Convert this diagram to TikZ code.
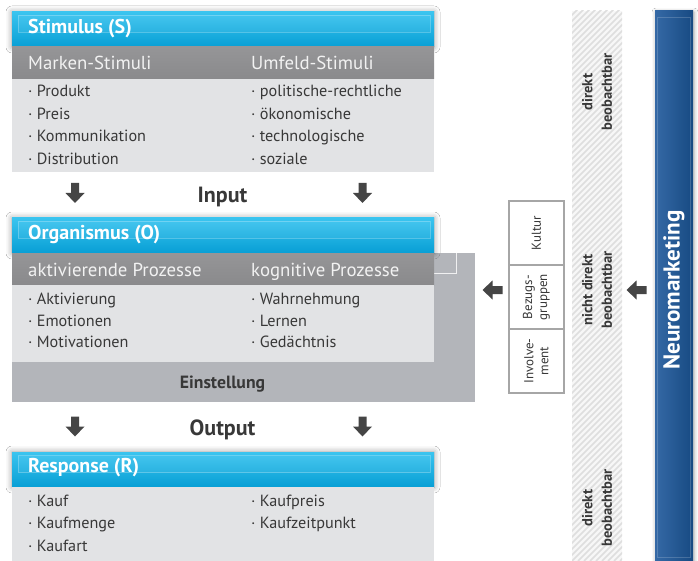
\documentclass[tikz,border=0pt]{standalone}
\usepackage{fontspec}
\setmainfont{PT Sans}
\usetikzlibrary{shadows.blur}
\definecolor{hdrtop}{HTML}{3AC4EF}
\definecolor{hdrbot}{HTML}{089FD5}
\definecolor{subgray}{HTML}{8A8A8C}
\definecolor{subgraytop}{HTML}{959597}
\definecolor{bodygray}{HTML}{E2E3E5}
\definecolor{einstgray}{HTML}{B3B5BA}
\definecolor{txtdark}{HTML}{383838}
\definecolor{arrgray}{HTML}{454545}
\definecolor{stripbg}{HTML}{F7F7F7}
\definecolor{stripln}{HTML}{DEDEDE}
\definecolor{nmleft}{HTML}{3569A6}
\definecolor{nmright}{HTML}{174A82}
\definecolor{cellline}{HTML}{A6A6A6}
\tikzset{
  panel/.style={anchor=north west, inner sep=0pt, outer sep=0pt, minimum width=422pt, draw=none},
  hdr/.style={panel, top color=hdrtop, bottom color=hdrbot,
    blur shadow={shadow blur radius=6pt, shadow xshift=0pt, shadow yshift=0pt, shadow opacity=40}},
  subhdr/.style={panel, top color=subgraytop, bottom color=subgray},
  body/.style={panel, fill=bodygray},
  gloss/.style={draw=white, draw opacity=.25, line width=.8pt, fill=white, fill opacity=.06},
  ttl/.style={anchor=base west, inner sep=0pt, text=white, font=\bfseries\fontsize{20}{22}\selectfont},
  sub/.style={anchor=base west, inner sep=0pt, text=white!95!black, font=\fontsize{18.8}{21}\selectfont},
  itm/.style={anchor=base west, inner sep=0pt, text=txtdark, font=\fontsize{16.2}{18}\selectfont},
  io/.style={anchor=base, inner sep=0pt, text=txtdark, font=\bfseries\fontsize{22}{24}\selectfont},
  cell/.style={draw=cellline, line width=1.1pt, fill=white, inner sep=0pt, minimum width=55pt, minimum height=64pt},
  celltxt/.style={rotate=90, align=center, inner sep=0pt, text=txtdark, font=\fontsize{13}{15}\selectfont},
  striptxt/.style={rotate=90, align=center, inner sep=0pt, text=txtdark, font=\bfseries\fontsize{14.5}{19.5}\selectfont},
  darr/.pic={\fill[arrgray] (-4,-10) -- (4,-10) -- (4,0) -- (9.5,0) -- (0,10) -- (-9.5,0) -- (-4,0) -- cycle;},
  larr/.pic={\fill[arrgray] (10,-4) -- (10,4) -- (0,4) -- (0,9.5) -- (-10,0) -- (0,-9.5) -- (0,-4) -- cycle;}
}
\begin{document}
\begin{tikzpicture}[x=1pt,y=-1pt]
\useasboundingbox (0,0) rectangle (698,561);
\fill[white] (0,0) rectangle (698,561);

% ---------- Stimulus ----------
\node[hdr, minimum height=35pt] (sHdr) at (12,12) {};
\node[subhdr, minimum height=32pt] (sSub) at (12,47) {};
\node[body, minimum height=93pt] (sBody) at (12,79) {};
\draw[gloss] (18,15.5) rectangle (430,32.5);
\node[ttl] (sTtl) at (28,33.3) {Stimulus (S)};
\node[sub] (sL) at (28,70) {Marken-Stimuli};
\node[sub] (sR) at (251,70) {Umfeld-Stimuli};
\node[itm] (s1) at (28,96.7) {· Produkt};
\node[itm] (s2) at (28,119.2) {· Preis};
\node[itm] (s3) at (28,141.7) {· Kommunikation};
\node[itm] (s4) at (28,164.2) {· Distribution};
\node[itm] (s5) at (251,96.7) {· politische-rechtliche};
\node[itm] (s6) at (251,119.2) {· ökonomische};
\node[itm] (s7) at (251,141.7) {· technologische};
\node[itm] (s8) at (251,164.2) {· soziale};

% ---------- Input ----------
\pic (inL) at (75,193) {darr};
\pic (inR) at (362.5,193) {darr};
\node[io] (input) at (222.5,202.7) {Input};

% ---------- Organismus ----------
\node[panel, fill=einstgray, minimum width=463pt, minimum height=149pt] (oEin) at (12,253) {};
\draw[white!80!einstgray, line width=.8pt] (434,273.5) -- (456.5,273.5) -- (456.5,253);
\node[hdr, minimum height=35pt] (oHdr) at (12,218) {};
\node[subhdr, minimum height=32pt] (oSub) at (12,253) {};
\node[body, minimum height=77pt] (oBody) at (12,285) {};
\draw[gloss] (18,221.5) rectangle (430,238.5);
\node[ttl] (oTtl) at (28,240) {Organismus (O)};
\node[sub] (oL) at (28,276) {aktivierende Prozesse};
\node[sub] (oR) at (251,276) {kognitive Prozesse};
\node[itm] (o1) at (28,304.3) {· Aktivierung};
\node[itm] (o2) at (28,326) {· Emotionen};
\node[itm] (o3) at (28,347.7) {· Motivationen};
\node[itm] (o4) at (251,304.3) {· Wahrnehmung};
\node[itm] (o5) at (251,326) {· Lernen};
\node[itm] (o6) at (251,347.7) {· Gedächtnis};
\node[anchor=base, inner sep=0pt, text=txtdark, font=\bfseries\fontsize{17.7}{19}\selectfont] (ein) at (222.5,388.3) {Einstellung};

% ---------- Output ----------
\pic (outL) at (75,426.5) {darr};
\pic (outR) at (362.5,426.5) {darr};
\node[io] (output) at (222.5,435) {Output};

% ---------- Response ----------
\node[hdr, minimum height=35pt] (rHdr) at (12,452) {};
\node[body, minimum height=74pt] (rBody) at (12,487) {};
\draw[gloss] (18,455.5) rectangle (430,472.5);
\node[ttl] (rTtl) at (28,472.7) {Response (R)};
\node[itm] (r1) at (28,506) {· Kauf};
\node[itm] (r2) at (28,528.7) {· Kaufmenge};
\node[itm] (r3) at (28,551) {· Kaufart};
\node[itm] (r4) at (251,506) {· Kaufpreis};
\node[itm] (r5) at (251,528.7) {· Kaufzeitpunkt};

% ---------- Influence box ----------
\pic (boxArr) at (492.5,290) {larr};
\node[cell] (cK) at (536.5,233) {};
\node[cell] (cB) at (536.5,297) {};
\node[cell] (cI) at (536.5,361) {};
\node[celltxt] at (cK) {Kultur};
\node[celltxt] at (cB) {Bezugs-\\gruppen};
\node[celltxt] at (cI) {Involve-\\ment};

% ---------- Hatched strip ----------
\node[panel, fill=stripbg, minimum width=50pt, minimum height=550pt] (strip) at (572,11) {};
\begin{scope}
  \clip (572,11) rectangle (622,561);
  \foreach \k in {-600,-594,...,60} {
    \draw[stripln, line width=1.5pt] (572+\k,561) -- (572+\k+600,-39);
  }
\end{scope}
\node[striptxt] (d1) at (597,92) {direkt\\beobachtbar};
\node[striptxt] (d2) at (597,290) {nicht direkt\\beobachtbar};
\node[striptxt] (d3) at (597,508) {direkt\\beobachtbar};
\pic (nmArr) at (636.5,290) {larr};

% ---------- Neuromarketing ----------
\node[panel, minimum width=38pt, minimum height=550pt, left color=nmleft, right color=nmright,
  blur shadow={shadow blur radius=4pt, shadow xshift=1pt, shadow yshift=-1pt, shadow opacity=35}] (nm) at (655,11) {};
\draw[white, opacity=.18, line width=.8pt] (657.5,17) rectangle (690.5,557);
\node[rotate=90, inner sep=0pt, text=white, font=\bfseries\fontsize{23}{26}\selectfont] (nmTxt) at (674,290) {Neuromarketing};
\end{tikzpicture}
\end{document}
